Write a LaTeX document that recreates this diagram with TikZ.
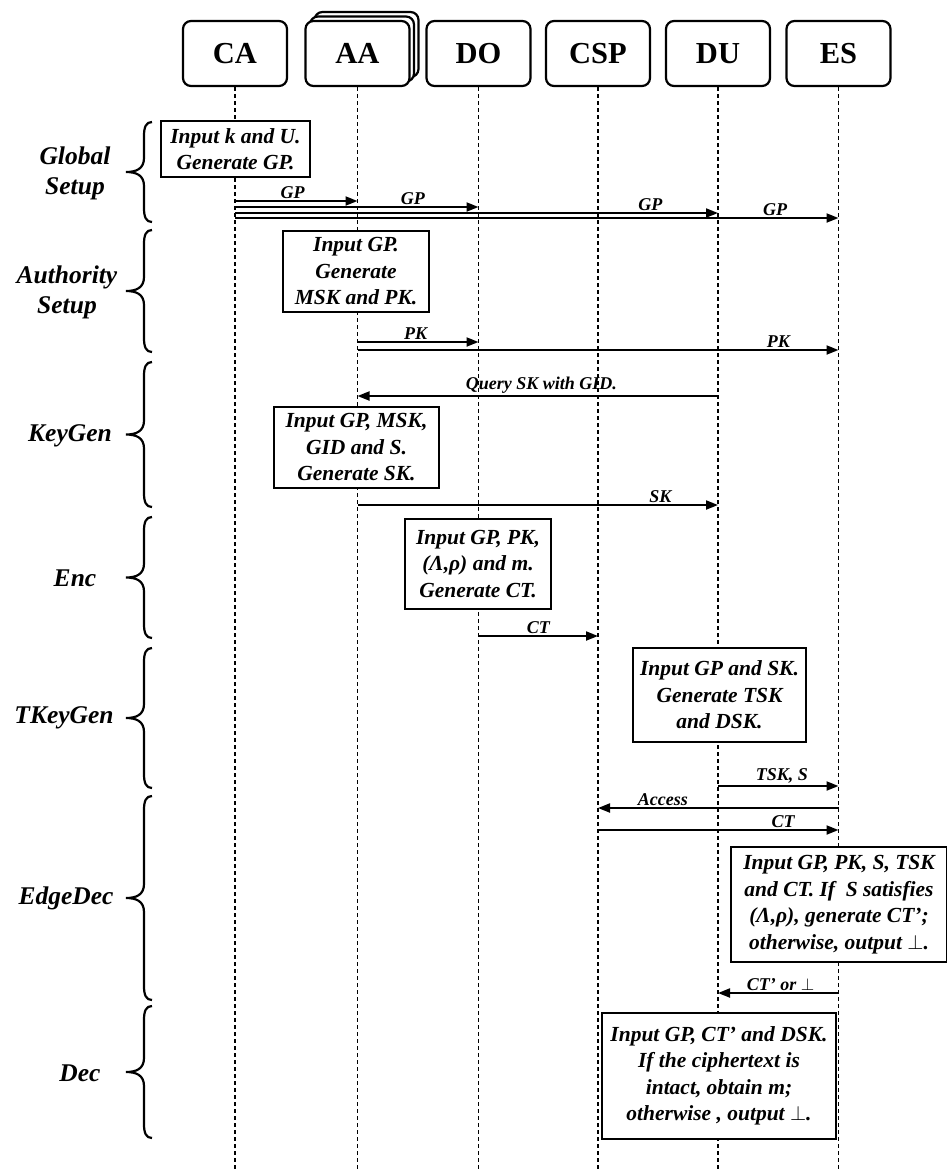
\documentclass[tikz,border=0pt]{standalone}
\usepackage{fontspec}
\setmainfont{Liberation Serif}
\usepackage{tikz}
\usetikzlibrary{arrows.meta}

% curly brace on the left for one phase: top, bottom
\newcommand{\phasebrace}[2]{%
  \draw[brc] (152,#1) .. controls (146,#1) and (144,#1+5) .. (144,#1+14)
    -- (144,{(#1+#2)/2-14}) .. controls (144,{(#1+#2)/2-3}) and (136,{(#1+#2)/2}) .. (126,{(#1+#2)/2})
    .. controls (136,{(#1+#2)/2}) and (144,{(#1+#2)/2+3}) .. (144,{(#1+#2)/2+14})
    -- (144,#2-14) .. controls (144,#2-5) and (146,#2) .. (152,#2);
}

\begin{document}
\begin{tikzpicture}[x=1pt,y=-1pt,
  party/.style={draw,line width=2.2pt,rounded corners=8pt,fill=white,
    minimum width=104pt,minimum height=65pt,inner sep=0pt,
    font=\fontsize{30.5}{36}\selectfont\bfseries},
  lifeline/.style={line width=1.4pt,dash pattern=on 4pt off 3pt},
  act/.style={draw,line width=2pt,fill=white,align=center,inner sep=0pt,
    font=\fontsize{21.5}{26.5}\selectfont\bfseries\itshape},
  msg/.style={line width=2pt,-{Triangle[length=12pt,width=9pt]}},
  lbl/.style={above,inner sep=1.5pt,font=\fontsize{18}{20}\selectfont\bfseries\itshape},
  phase/.style={align=center,font=\fontsize{25.5}{30}\selectfont\bfseries\itshape},
  brc/.style={line width=2.2pt}]
  \useasboundingbox (0,0) rectangle (946,1171);

  % Parties
  \node[party] (ca) at (235,53.5) {CA};
  \node[party] (aaback2) at (366.5,44.5) {};
  \node[party] (aaback1) at (362,49) {};
  \node[party] (aa) at (357.5,53.5) {AA};
  \node[party] (do) at (478.5,53.5) {DO};
  \node[party] (csp) at (598,53.5) {CSP};
  \node[party] (du) at (718,53.5) {DU};
  \node[party] (es) at (838.5,53.5) {ES};

  % Lifelines
  \foreach \p in {ca,aa,do,csp,du,es}
    \draw[lifeline] (\p.south) -- (\p.south |- 0,1171);

  % Phases
  \phasebrace{122}{222}
  \node[phase] (gslbl) at (75,173) {Global\\Setup};
  \phasebrace{230}{352}
  \node[phase] (aslbl) at (67,292) {Authority\\Setup};
  \phasebrace{362}{507}
  \node[phase] (kglbl) at (70,436) {KeyGen};
  \phasebrace{517}{638}
  \node[phase] (enclbl) at (75,578) {Enc};
  \phasebrace{648}{788}
  \node[phase] (tklbl) at (64,718) {TKeyGen};
  \phasebrace{796}{1000}
  \node[phase] (edlbl) at (66,898) {EdgeDec};
  \phasebrace{1006}{1138}
  \node[phase] (declbl) at (80,1073) {Dec};

  % Global Setup
  \node[act,minimum width=149pt,minimum height=56pt] (gsbox) at (235.5,149)
    {Input k and U.\\Generate GP.};
  \draw[msg] (ca |- 0,201) -- (aa |- 0,201) node[lbl,pos=0.47] {GP};
  \draw[msg] (ca |- 0,207) -- (do |- 0,207) node[lbl,pos=0.73] {GP};
  \draw[msg] (ca |- 0,213) -- (du |- 0,213) node[lbl,pos=0.86] {GP};
  \draw[msg] (ca |- 0,218) -- (es |- 0,218) node[lbl,pos=0.895] {GP};

  % Authority Setup
  \node[act,minimum width=146pt,minimum height=81pt] (asbox) at (356,271.5)
    {Input GP.\\Generate\\MSK and PK.};
  \draw[msg] (aa |- 0,342) -- (do |- 0,342) node[lbl,pos=0.48] {PK};
  \draw[msg] (aa |- 0,350) -- (es |- 0,350) node[lbl,pos=0.875] {PK};

  % KeyGen
  \draw[msg] (du |- 0,396) -- (aa |- 0,396) node[lbl,pos=0.49] {Query SK with GID.};
  \node[act,minimum width=165pt,minimum height=81pt] (kgbox) at (356.5,447.5)
    {Input GP, MSK,\\GID and S.\\Generate SK.};
  \draw[msg] (aa |- 0,505) -- (du |- 0,505) node[lbl,pos=0.84] {SK};

  % Enc
  \node[act,minimum width=146pt,minimum height=90pt] (encbox) at (478,564)
    {Input GP, PK,\\(Λ,ρ) and m.\\Generate CT.};
  \draw[msg] (do |- 0,636) -- (csp |- 0,636) node[lbl,pos=0.5] {CT};

  % TKeyGen
  \node[act,minimum width=173pt,minimum height=94pt] (tkbox) at (719.5,695)
    {Input GP and SK.\\Generate TSK\\and DSK.};
  \draw[msg] (du |- 0,786) -- (es |- 0,786) node[lbl,pos=0.53] {TSK, S};

  % EdgeDec
  \draw[msg] (es |- 0,808) -- (csp |- 0,808) node[lbl,pos=0.73] {Access};
  \draw[msg] (csp |- 0,830) -- (es |- 0,830) node[lbl,pos=0.77] {CT};
  \node[act,minimum width=216pt,minimum height=115pt] (edbox) at (839,904.5)
    {Input GP, PK, S, TSK\\and CT. If~ S satisfies\\(Λ,ρ), generate CT’;\\otherwise, output $\perp$.};
  \draw[msg] (es |- 0,993) -- (du |- 0,993) node[lbl,pos=0.48] {CT’ or $\perp$};

  % Dec
  \node[act,minimum width=234pt,minimum height=126pt] (decbox) at (719,1076)
    {Input GP, CT’ and DSK.\\If the ciphertext is\\intact, obtain m;\\otherwise , output $\perp$.};
\end{tikzpicture}
\end{document}
